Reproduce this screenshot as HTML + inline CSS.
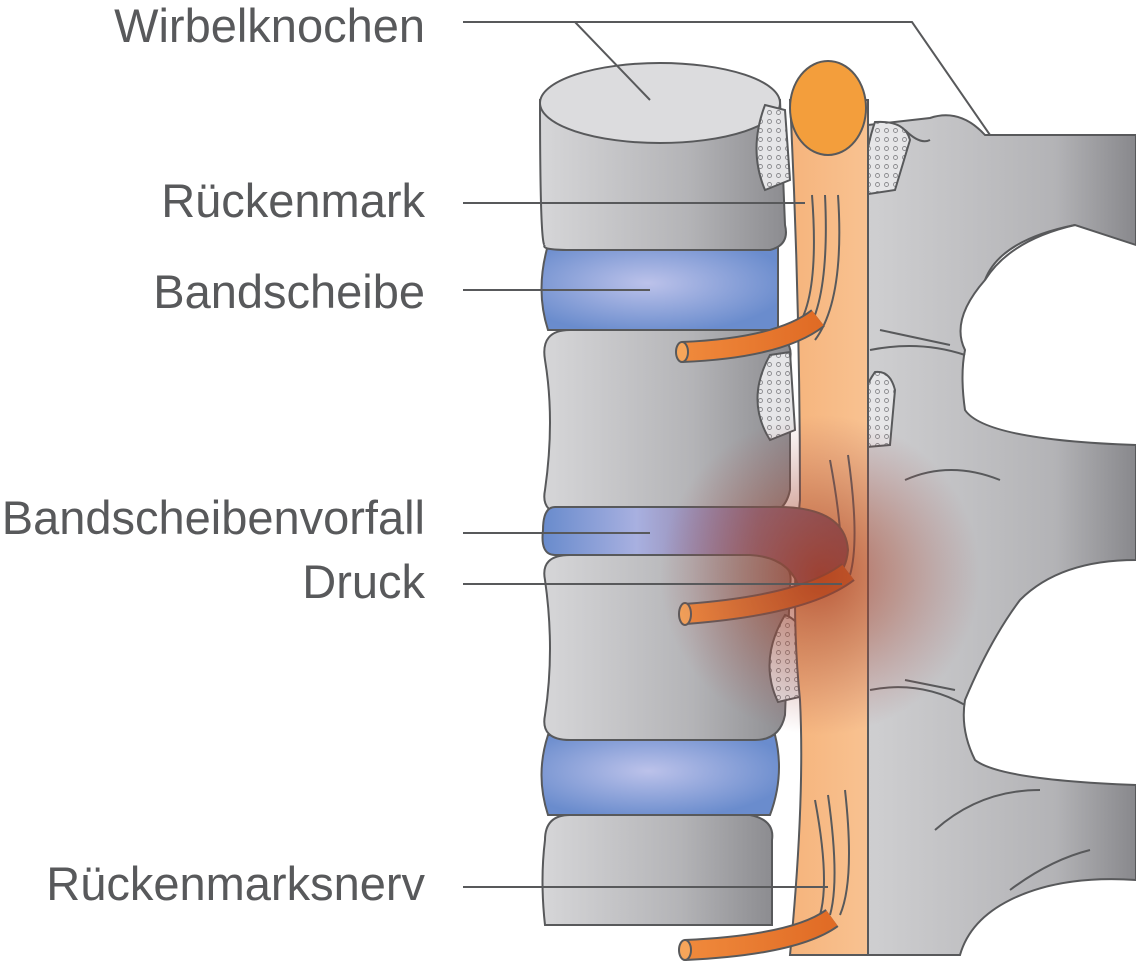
<!DOCTYPE html>
<html><head><meta charset="utf-8"><style>
html,body{margin:0;padding:0;background:#fff}
svg{display:block}
text{font-family:"Liberation Sans",sans-serif;font-size:47px;fill:#58595b}
</style></head><body>
<svg width="1136" height="964" viewBox="0 0 1136 964">
<defs>
<linearGradient id="bone" x1="0" x2="1" y1="0" y2="0"><stop offset="0" stop-color="#d6d6d8"/><stop offset="0.6" stop-color="#b4b4b7"/><stop offset="1" stop-color="#8c8c90"/></linearGradient>
<linearGradient id="post" x1="0" x2="1" y1="0" y2="0"><stop offset="0" stop-color="#cfcfd1"/><stop offset="0.7" stop-color="#b3b3b6"/><stop offset="1" stop-color="#88888c"/></linearGradient>
<radialGradient id="disc" cx="0.45" cy="0.45" r="0.6"><stop offset="0" stop-color="#bcc2ea"/><stop offset="1" stop-color="#6a8ccd"/></radialGradient>
<linearGradient id="hern" x1="545" x2="850" y1="0" y2="0" gradientUnits="userSpaceOnUse"><stop offset="0" stop-color="#6a8ccd"/><stop offset="0.3" stop-color="#a8b0e0"/><stop offset="0.7" stop-color="#8a6a85"/><stop offset="1" stop-color="#7e4e60"/></linearGradient>
<linearGradient id="cord" x1="0" x2="1"><stop offset="0" stop-color="#f6b47c"/><stop offset="1" stop-color="#f8c291"/></linearGradient>
<linearGradient id="nerve" x1="0" x2="1"><stop offset="0" stop-color="#f08a3c"/><stop offset="1" stop-color="#e06b25"/></linearGradient>
<radialGradient id="glow" cx="820" cy="575" r="160" gradientUnits="userSpaceOnUse"><stop offset="0" stop-color="#a63a20" stop-opacity="0.75"/><stop offset="0.5" stop-color="#a64a35" stop-opacity="0.4"/><stop offset="1" stop-color="#a65050" stop-opacity="0"/></radialGradient>
<pattern id="dots" width="9" height="9" patternUnits="userSpaceOnUse"><rect width="9" height="9" fill="#e6e6e8"/><circle cx="4.5" cy="4.5" r="2" fill="none" stroke="#8a8a8e" stroke-width="0.9"/></pattern>
</defs>
<g stroke="#58595b" stroke-width="2">
<path d="M868 125 L930 118 Q960 108 985 135 L1136 135 L1136 245 L1075 225 Q1000 240 985 280 Q950 320 965 350 Q960 375 965 410 Q985 440 1136 445 L1136 560 Q1060 560 1020 600 Q990 640 965 700 Q960 730 975 760 Q1000 780 1136 785 L1136 880 Q1060 875 1010 900 Q970 920 960 955 L868 955 Z" fill="url(#post)"/>
<path d="M870 350 Q920 340 965 355 M870 690 Q920 680 965 705 M985 280 Q1010 240 1075 225 M1000 480 Q950 460 905 480 M935 830 Q980 790 1040 790 M1010 890 Q1050 860 1090 850 M905 130 Q920 145 930 140 M880 330 L950 345 M905 680 L955 690" fill="none"/>
<path d="M548 245 L778 245 L778 330 L548 330 Q535 290 548 245Z" fill="url(#disc)"/>
<path d="M548 735 L775 735 Q785 775 770 815 L548 815 Q535 775 548 735Z" fill="url(#disc)"/>
<path d="M540 100 Q540 250 545 245 Q540 250 570 250 L770 250 Q790 245 785 225 L780 100 Z" fill="url(#bone)"/>
<ellipse cx="660" cy="103" rx="120" ry="40" fill="#dcdcde"/>
<path d="M570 330 L760 330 Q795 335 790 360 L790 490 Q785 515 760 515 L570 515 Q540 515 545 490 Q555 420 545 360 Q540 330 570 330Z" fill="url(#bone)"/>
<path d="M570 555 L760 555 Q795 560 790 585 L785 715 Q780 740 755 740 L570 740 Q540 740 545 715 Q555 650 545 580 Q540 555 570 555Z" fill="url(#bone)"/>
<path d="M570 815 L750 815 Q775 820 772 840 L772 925 L545 925 Q540 880 545 840 Q545 815 570 815Z" fill="url(#bone)"/>
<path d="M765 105 L785 110 L790 180 L765 190 Q748 150 765 105Z" fill="url(#dots)"/>
<path d="M875 122 Q905 120 910 140 L895 190 L862 195 Q865 150 875 122Z" fill="url(#dots)"/>
<path d="M770 355 L790 352 L795 430 L770 440 Q745 400 770 355Z" fill="url(#dots)"/>
<path d="M875 372 Q890 370 895 390 L890 445 L855 448 Q855 400 875 372Z" fill="url(#dots)"/>
<path d="M785 615 Q800 620 805 640 L808 695 L778 702 Q758 660 785 615Z" fill="url(#dots)"/>
<path d="M790 100 L868 100 L868 955 L790 955 Q805 800 800 700 Q790 600 800 500 Q800 300 790 100Z" fill="url(#cord)"/>
<ellipse cx="828" cy="108" rx="38" ry="47" fill="#f39e3c"/>
<path d="M812 195 Q820 300 795 330 M825 195 Q830 300 805 335 M838 195 Q845 300 815 340 M830 460 Q845 540 840 580 M848 455 Q860 540 850 575 M815 800 Q830 880 820 915 M828 795 Q840 880 830 915 M845 790 Q855 880 840 915" fill="none"/>
<path d="M555 507 L770 507 Q845 505 848 550 Q845 588 800 590 Q790 557 750 555 L555 555 Q540 555 543 530 Q543 507 555 507Z" fill="url(#hern)"/>
<g fill="none" stroke-linecap="butt">
<path d="M682 352 Q780 348 818 318" stroke="#58595b" stroke-width="22"/>
<path d="M682 352 Q780 348 818 318" stroke="url(#nerve)" stroke-width="18"/>
<path d="M685 614 Q805 605 848 572" stroke="#58595b" stroke-width="22"/>
<path d="M685 614 Q805 605 848 572" stroke="url(#nerve)" stroke-width="18"/>
<path d="M685 950 Q795 945 832 918" stroke="#58595b" stroke-width="22"/>
<path d="M685 950 Q795 945 832 918" stroke="url(#nerve)" stroke-width="18"/>
</g>
<ellipse cx="682" cy="352" rx="6" ry="10" fill="#f6a55a"/>
<ellipse cx="685" cy="614" rx="6" ry="11" fill="#f6a55a"/>
<ellipse cx="685" cy="950" rx="6" ry="10" fill="#f6a55a"/>
</g>
<circle cx="820" cy="575" r="160" fill="url(#glow)"/>
<text x="425" y="42" text-anchor="end">Wirbelknochen</text>
<text x="425" y="217" text-anchor="end">Rückenmark</text>
<text x="425" y="308" text-anchor="end">Bandscheibe</text>
<text x="425" y="534" text-anchor="end">Bandscheibenvorfall</text>
<text x="425" y="598" text-anchor="end">Druck</text>
<text x="425" y="900" text-anchor="end">Rückenmarksnerv</text>
<g stroke="#58595b" stroke-width="2" fill="none">
<path d="M463 22 L575 22 L650 100"/>
<path d="M575 22 L912 22 L990 135"/>
<path d="M463 203 L805 203"/>
<path d="M463 290 L650 290"/>
<path d="M463 533 L650 533"/>
<path d="M463 584 L842 584"/>
<path d="M463 887 L828 887"/>
</g>
</svg>
</body></html>
